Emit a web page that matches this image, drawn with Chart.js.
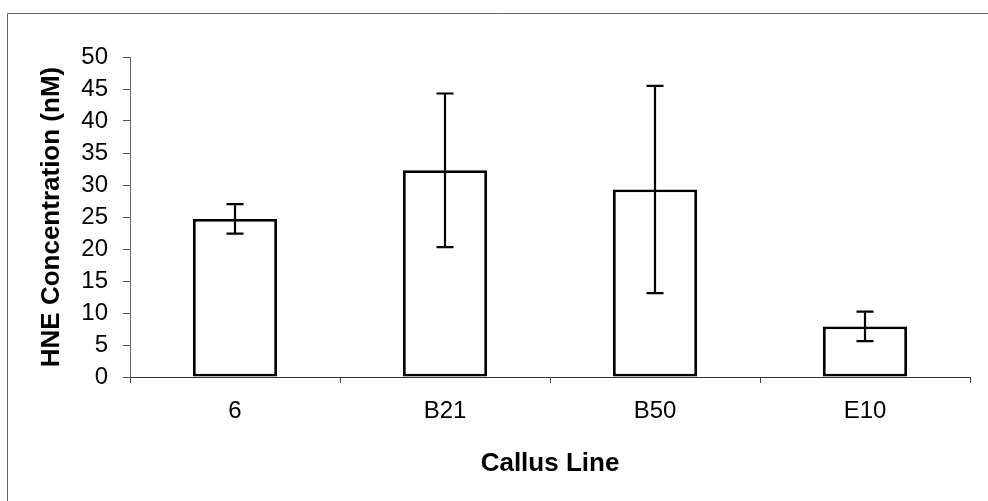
<!DOCTYPE html>
<html>
<head>
<meta charset="utf-8">
<script src="https://cdn.jsdelivr.net/npm/chart.js@4"></script>
<style>
  html, body { margin: 0; padding: 0; background: #fff; }
  #wrap { width: 988px; height: 501px; position: relative; }
</style>
</head>
<body>
<div id="wrap"><canvas id="hne-chart" width="988" height="501"></canvas></div>
<script>
const callusLines = ['6', 'B21', 'B50', 'E10'];
const hneMeans = [24.7, 32.3, 29.3, 7.9];
const hneErrors = [2.3, 12.0, 16.2, 2.3];
const yTicks = [0, 5, 10, 15, 20, 25, 30, 35, 40, 45, 50];

const FONT = "'Liberation Sans', Arial, sans-serif";

// outer frame of the original figure
const framePlugin = {
  id: 'frame',
  beforeDraw: (chart) => {
    const ctx = chart.ctx;
    ctx.save();
    ctx.fillStyle = '#fff';
    ctx.fillRect(0, 0, chart.width, chart.height);
    ctx.strokeStyle = '#666';
    ctx.lineWidth = 1;
    ctx.beginPath();
    ctx.moveTo(7.5, chart.height);
    ctx.lineTo(7.5, 13.5);
    ctx.lineTo(chart.width, 13.5);
    ctx.stroke();
    ctx.restore();
  }
};

// symmetric error bars computed through the y scale
const errorBarPlugin = {
  id: 'errorBars',
  afterDatasetsDraw: (chart) => {
    const ctx = chart.ctx;
    const yScale = chart.scales.y;
    const meta = chart.getDatasetMeta(0);
    ctx.save();
    ctx.strokeStyle = '#000';
    ctx.lineWidth = 2.2;
    meta.data.forEach((bar, i) => {
      const x = bar.x;
      const top = yScale.getPixelForValue(hneMeans[i] + hneErrors[i]);
      const bottom = yScale.getPixelForValue(hneMeans[i] - hneErrors[i]);
      ctx.beginPath();
      ctx.moveTo(x, top);
      ctx.lineTo(x, bottom);
      ctx.moveTo(x - 8.5, top);
      ctx.lineTo(x + 8.5, top);
      ctx.moveTo(x - 8.5, bottom);
      ctx.lineTo(x + 8.5, bottom);
      ctx.stroke();
    });
    ctx.restore();
  }
};

new Chart(document.getElementById('hne-chart'), {
  type: 'bar',
  data: {
    labels: callusLines,
    datasets: [{
      data: hneMeans,
      backgroundColor: '#fff',
      borderColor: '#000',
      borderWidth: 2.8,
      borderSkipped: false,
      categoryPercentage: 1,
      barPercentage: 0.4
    }]
  },
  options: {
    responsive: false,
    animation: false,
    layout: { padding: { top: 57, right: 18, bottom: 0, left: 0 } },
    plugins: {
      legend: { display: false },
      tooltip: { enabled: false }
    },
    scales: {
      x: {
        grid: { display: true, drawOnChartArea: false, drawTicks: true, tickLength: 6, color: '#444', offset: true },
        border: { display: true, color: '#333', width: 1 },
        ticks: { color: '#000', padding: 14, font: { family: FONT, size: 24 } },
        title: {
          display: true,
          text: 'Callus Line',
          color: '#000',
          font: { family: FONT, size: 26, weight: 'bold' },
          padding: { top: 0, bottom: 22 }
        },
        afterFit: (scale) => { scale.height = 124; }
      },
      y: {
        min: 0,
        max: 50,
        afterBuildTicks: (scale) => { scale.ticks = yTicks.map(v => ({ value: v })); },
        grid: { display: true, drawOnChartArea: false, drawTicks: true, tickLength: 7, color: '#555' },
        border: { display: true, color: '#666', width: 1 },
        ticks: { color: '#000', padding: 15, font: { family: FONT, size: 24 } },
        title: {
          display: true,
          text: 'HNE Concentration (nM)',
          color: '#000',
          font: { family: FONT, size: 26, weight: 'bold' },
          padding: { top: 36, bottom: 0 }
        },
        afterFit: (scale) => { scale.width = 130; }
      }
    }
  },
  plugins: [framePlugin, errorBarPlugin]
});
</script>
</body>
</html>
